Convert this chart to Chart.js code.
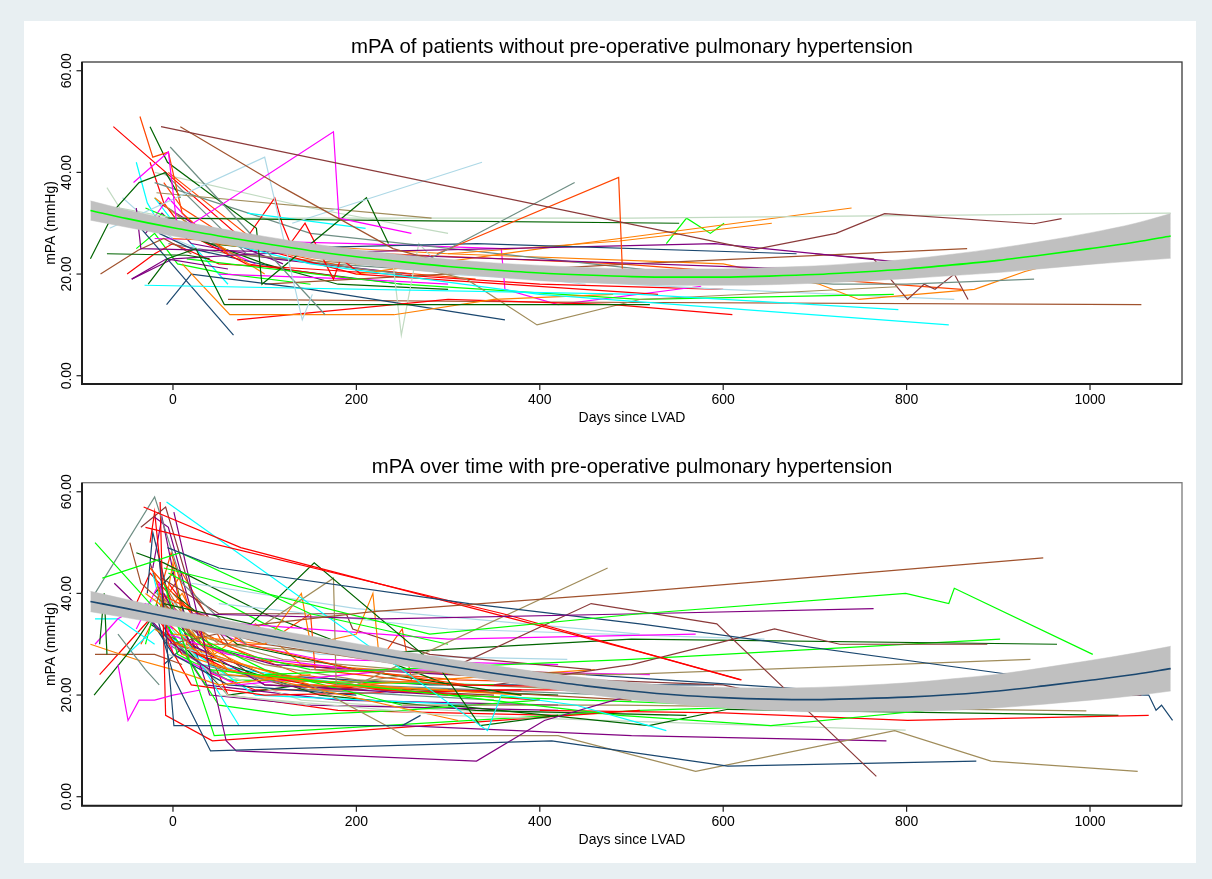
<!DOCTYPE html>
<html>
<head>
<meta charset="utf-8">
<script src="https://cdn.jsdelivr.net/npm/chart.js@4.4.0/dist/chart.umd.min.js"></script>
<style>
html,body{margin:0;padding:0;width:1212px;height:879px;overflow:hidden;background:#e8eff2}
#panel{position:absolute;left:24px;top:21px;width:1172px;height:842px;background:#ffffff}
canvas{position:absolute;left:0}
#c1{top:0}
#c2{top:440px}
</style>
</head>
<body>
<div id="panel"></div>
<canvas id="c1" width="1212" height="440"></canvas>
<canvas id="c2" width="1212" height="439"></canvas>
<script>
// ---------- tick labels ----------
const xTickValues = [0, 200, 400, 600, 800, 1000];
const yTickValues = [0, 20, 40, 60];
const yTickLabels = ["0.00", "20.00", "40.00", "60.00"];
const xAxisTitle = "Days since LVAD";
const yAxisTitle = "mPA (mmHg)";
const topTitle = "mPA of patients without pre-operative pulmonary hypertension";
const bottomTitle = "mPA over time with pre-operative pulmonary hypertension";

// ---------- fitted curves ----------
const fitDays = [-90,-50,0,50,100,150,200,250,300,350,400,450,500,550,600,650,700,750,800,850,900,950,1000,1050,1088];
const topFit   = [32.5,30.9,29.1,27.5,26.0,24.6,23.4,22.4,21.5,20.8,20.2,19.8,19.5,19.4,19.4,19.6,19.9,20.4,21.0,21.8,22.7,23.8,25.0,26.3,27.5];
const topCIHigh= [34.4,32.6,30.7,29.0,27.4,26.0,24.8,23.8,22.9,22.2,21.7,21.3,21.0,21.0,21.0,21.3,21.6,22.2,22.9,23.9,25.1,26.5,28.1,30.0,31.9];
const topCILow = [30.6,29.2,27.5,26.0,24.6,23.2,22.0,21.0,20.1,19.4,18.7,18.3,18.0,17.8,17.8,17.9,18.2,18.6,19.1,19.7,20.3,21.1,21.9,22.6,23.1];
const botFit   = [38.4,37.0,35.2,33.5,31.8,30.2,28.7,27.2,25.7,24.3,23.0,21.8,20.8,20.0,19.5,19.2,19.1,19.3,19.6,20.1,20.8,21.8,22.9,24.1,25.2];
const botCIHigh= [40.4,38.8,36.8,35.0,33.2,31.6,30.1,28.6,27.1,25.8,24.5,23.4,22.5,21.8,21.5,21.4,21.5,21.9,22.4,23.2,24.1,25.4,26.8,28.3,29.6];
const botCILow = [36.4,35.2,33.6,32.0,30.4,28.8,27.3,25.8,24.3,22.8,21.5,20.2,19.1,18.2,17.5,17.0,16.7,16.7,16.8,17.0,17.5,18.2,19.0,19.9,20.8];

// ---------- patients without pre-op PH (top) ----------
const topDays = [
 [-13,633,723,776,939,969],[8,120,240,300],[-43,-5,4,22,175,181,260],[-69,100,141,152],[130,337],
 [-3,166],[280,438],[-36,-22,-5,10,60],[288,486,490,540],[-25,-6,91,97,211,235],
 [-6,250,552],[-90,-62,-37,-8,8],[-72,15,40],[-27,-6,25,56,520],[81,210],
 [-31,509,791],[-30,150,400,846],[10,62,241,350,480],[70,300,480,610],[80,111,119,128,144,175,183,205],
 [-35,66],[-7,20,150,362],[100,331,680],[-45,0,93,358,591,790],[-40,-35,200,676],
 [-18,282],[200,320,397,509,790],[-72,-58,0,500,1088],[200,240,249,268,300],[200,401,487,740],
 [0,300,487,653],[538,560,586,601],[15,250,509,786],[60,400,1056],[100,500,866],
 [-20,150,560,720,800,939],[700,764,801,819,831,852,867],[300,600,705,748,874,929,950],[300,600,852],[-5,100,487,860],
 [-10,200,529],[50,200,300],[-65,75,100],[-40,-28,-15],[-79,-38,-10,20],
 [-45,-7,60],[-20,200,358,362,420,576],[-50,-20,0,50,150,400,600],[-10,100,250,450],[-5,60,200,400],
 [-20,30,100],[-15,40,120],[10,100,180,300],[-10,80,250],[-20,150,300],
 [-10,50,200],[-30,10,150,300],[-25,-10,15,80,200],[-15,20,120,250],[-25,-5,40,90],
 [-10,10,70,200,330],[-40,-20,5,60,150],[-5,40,150,280],[-30,-12,20,110,260],[-35,0,90,230],
 [-55,-30,0,40],[-5,60,170,340,480],[-20,10,60]
];
const topMPA = [
 [49,24.8,28,31.9,29.9,30.9],[49,37,25,22],[38,44,30,30,48,31,28],[29,43,11,16],[30,42],
 [45,12],[23,38],[51,43,44,32,24],[24,39,21,20],[49,42,29,18,35,26],
 [31,30.5,30],[23,33,38,40,35],[24,23.7,23],[18,23,25,14,14],[32,29],
 [17.8,16,13],[30,22,16,10],[22,12,12,15,16],[11,15,14,12],[27,35,30,26,30,19,23,20],
 [29,8],[14,20,17,11],[25,26,24],[19,23,24,25,26,22.4],[33,25,24,21],
 [36,31],[24,19,10,15,17.5],[37,33,31,31,32],[24,22,8,26,20],[20,25,27,33],
 [27,24,26.5,30],[26,31,28,30],[23,18,15,16],[15,14.5,14],[18,22,25],
 [38,28,20,18,18,19],[24,23,15,18,17,20,15],[24,22,18,15,17,20.5,21.5],[20,17,15],[40,25,22,17],
 [30,20,16],[20,19,18],[49,27,26],[42,34,30],[20,24.7,27,24],
 [19,23,21],[27,26,25,17,14,17.6],[20,24,26,22,21,18,17],[31,27,22,18],[33,24,22,21],
 [35,28,20],[34,28,22],[28,22,18,17],[40,24,20],[40,33,28],
 [30,26,22],[33,30,25,22],[42,34,28,22,19],[28,25,21,18],[30,35,26,22],
 [38,33,26,21,19],[25,28,22,20,18],[30,26,24,22],[28,32,26,23,20],[30,28,26,23],
 [35,31,27,24],[26,24,22,20,19],[35,28,18]
];
const topColors = [
 "maroon","sienna","magenta","ltblue","ltblue",
 "teal","teal","orangered","orangered","dkgreen",
 "dkgreen","dkgreen","dkgreen","dkgreen","cyan",
 "cyan","cyan","dkorange","red","red",
 "navy","navy","navy","purple","purple",
 "khaki","khaki","palegreen","palegreen","dkorange",
 "dkorange","lime","lime","sienna","sienna",
 "teal","maroon","dkorange","ltblue","orangered",
 "red","magenta","red","cyan","sienna",
 "purple","magenta","red","ltblue","khaki",
 "dkorange","purple","dkgreen","teal","palegreen",
 "dkorange","lime","red","navy","magenta",
 "orangered","lime","dkgreen","purple","khaki",
 "ltblue","teal","cyan"
];

// ---------- patients with pre-op PH (bottom) ----------
const botDays = [
 [-5,100,218,487,949],[-10,280,509,799,846,852,1003],[20,230,509,764],[-6,50,323,509,915],[-32,74,509,619],
 [-30,360,620],[-7,343,358,440,538],[-10,85,154,292,335,420],[200,474],[100,175,178,300],
 [300,456,593,767],[350,500,656,727,888],[200,500,964],[100,500,902],[150,487,935],
 [-20,2,41,413,605,876],[1,58,69,331,405,500],[-15,1,250,270],[150,253,420,570,787,892,1052],[300,487,652,862],
 [400,600,801,1064],[300,519,605,1031],[450,700,1064,1072,1078,1090],[300,700,1056],[250,487,996],
 [250,500,778],[-60,-49,-37,-20,0,30],[-85,-20,30,150],[-77,8,150,300],[-85,-20,10,80],
 [-60,-30,-15],[-47,-35,-10,40],[-35,-8,20,60],[0,100,140,150,200,218,225,300],[0,300,570],
 [50,300,645],[20,200,509],[50,300,799],[40,300,760],[-10,60,311],
 [-25,10,80,200,320],[-14,-8,43,509],[-10,45,509,700],[-64,-30,0,40],[-86,-50,-20],
 [-80,-75,-72],[-90,-40,0,50,150],[-85,-20,10],[-85,-60,-30,0],[-85,-60,-20],
 [-80,-50,-20,10],[-30,0,30,100,250],[-20,5,60,150,300],[-10,30,120,180,300],[-10,20,100,300],
 [-15,20,100,250],[-25,0,60,200],[-15,30,150,350],[-12,50,189,196,280,456],[-18,50,200],
 [0,70,200,380],[-5,120,250],[-5,60,200,400],[10,80,200,380],[-5,60,150,400],
 [-10,72],[-10,100,250,450],[-5,100,180,300],[-10,60,150],[0,100,150,155,300],
 [-40,-10,100,300],[300,600,650,900],[-15,40,230,250,260],[-20,-5,30,110,300],[-25,-20,-5,20,100,380],
 [-28,-22,-3,30],[-20,-10,0,15,60,200,460],[-15,0,50,130,250,400],[-22,-12,5,40,150,420],[-40,-15,0,70,250,520],
 [-35,-5,50,200,480],[-18,-2,25,90,180,310,520],[-30,-5,40,120,300,500],[-50,-20,10,90,330],[-10,30,100,200,450],
 [-20,0,25,160,330,560],[-45,-10,30,160,430],[-5,20,60,180,420],[-25,-10,40,100,350],[-5,40,140,300,540],
 [-8,10,45,90,140,400],[-30,-15,5,60,350],[-10,15,100,280,590],[-18,-5,35,180,420],[-35,-12,10,55,140,260],
 [-12,10,80,160,420],[-3,40,120,250,380],[-25,10,60,140,420],[-22,-10,30,200],[-40,-25,-5,30,90,470]
];
const botMPA = [
 [30,34,36.4,40,47],[45,32,36,40,38,41,28],[36,35,36,37],[49,45,38,34,24],[57,49,28.5,23],
 [53,36,23],[58,13,20,18,13],[38,34,46,25,14,16],[22,45],[34,43,22,25],
 [25,38,34,4],[22,26,33,30,30],[28,31,30],[24,27,31],[25,24,27],
 [37,23,9,11,6,7],[56,11,9,7,15,20],[47,14,14,16],[22,12,12,5,13,7,5],[20,16,14,17.7],
 [17,16.5,15,16],[18,14,17.2,16],[24,21,20,17,18,15],[22,21,20],[18,18,16.9],
 [14,12,11],[26,15,19,19,20,21],[50,37,30,25],[43,48,36,30],[40,59,42,30],
 [32,25,22],[50,42,38,28],[53,57,40,30],[32,30,40,30,32,40,27,26],[35,31,32],
 [38,33,31],[42,37,32],[20,16,13.1],[25,20,17],[38,25,15],
 [45,38,30,25,22],[58,16,11,17],[42,12,17,18],[42,36,30,25],[20,28,36],
 [30,40,28],[30,27,25,22,24],[28,28,26],[30,35,38,33],[35,35,30],
 [24,30,36,28],[40,36,30,24,21],[33,30,27,22,21],[35,28,24,22,20],[40,30,22,20],
 [38,32,25,18],[35,28,22,20],[33,26,21,19],[43,36,36,33,28,25],[40,30,28],
 [40,30,25,20],[30,24,20],[32,28,25,24],[28,24,22,20],[31,25,22,19],
 [38,14],[36,30,26,24],[44,34,28,26],[35,20,18],[30,30,36,25,22],
 [48,46,36,22],[24,22,20,20],[40,35,28,33,23],[55,53,30,26,24],[50,56,30,22,20,21],
 [40,52,38,26],[44,36,46,30,24,22,25],[36,32,18,16,17,19],[45,55,40,20,18,17],[33,42,28,22,25,24],
 [37,30,24,22,20],[38,48,33,27,25,23,22],[35,38,26,22,21,19],[28,33,30,20,18],[42,30,26,23,21],
 [40,44,28,20,17,16],[36,40,33,28,27],[42,36,20,17,16],[46,38,30,22,20],[28,25,19,17,16],
 [36,40,28,34,26,23],[30,40,28,23,22],[26,30,24,22,22],[38,33,22,19,18],[30,38,44,30,24,21],
 [40,35,30,27,26],[36,31,27,25,23],[34,30,20,22,20],[44,35,26,22],[38,44,40,25,21,21]
];
const botColors = [
 "sienna","lime","purple","navy","red",
 "red","cyan","dkgreen","khaki","khaki",
 "maroon","maroon","dkgreen","lime","khaki",
 "navy","purple","navy","khaki","lime",
 "red","dkgreen","navy","red","khaki",
 "purple","magenta","lime","lime","teal",
 "teal","sienna","maroon","dkorange","magenta",
 "ltblue","ltblue","palegreen","lime","dkorange",
 "orangered","red","lime","purple","dkgreen",
 "dkgreen","dkorange","sienna","magenta","cyan",
 "red","dkorange","dkorange","orangered","purple",
 "lime","navy","teal","maroon","khaki",
 "dkgreen","ltblue","magenta","dkorange","red",
 "cyan","sienna","lime","palegreen","orangered",
 "dkgreen","maroon","orangered","purple","red",
 "navy","dkorange","lime","purple","magenta",
 "teal","orangered","sienna","cyan","khaki",
 "dkgreen","ltblue","red","maroon","palegreen",
 "dkorange","lime","navy","purple","orangered",
 "magenta","khaki","dkgreen","cyan","red"
];

// ---------- styles ----------
const palette = {
  red:"#ff0000", lime:"#00ff00", cyan:"#00ffff", magenta:"#ff00ff",
  dkgreen:"#006400", dkorange:"#ff7f00", orangered:"#ff4500", purple:"#800080",
  sienna:"#a0522d", maroon:"#8b3a3a", navy:"#1a476f", khaki:"#a08c5a",
  ltblue:"#add8e6", teal:"#6e8e84", palegreen:"#c1dac1"
};
const FONT = '"Liberation Sans", Arial, Helvetica, sans-serif';

function patientSets(days, vals, colors) {
  return days.map((d, i) => ({
    data: d.map((x, j) => ({x: x, y: vals[i][j]})),
    borderColor: palette[colors[i]],
    borderWidth: 1.2,
    pointRadius: 0,
    tension: 0,
    fill: false
  }));
}
function fitSets(fit, hi, lo, lineColor) {
  const pts = arr => fitDays.map((x, i) => ({x: x, y: arr[i]}));
  return [
    {data: pts(fit), borderColor: lineColor, borderWidth: 1.6, pointRadius: 0, fill: false, cubicInterpolationMode: 'monotone'},
    {data: pts(hi), borderColor: '#c0c0c0', borderWidth: 0.5, backgroundColor: '#c0c0c0', pointRadius: 0, fill: '+1', cubicInterpolationMode: 'monotone'},
    {data: pts(lo), borderColor: '#c0c0c0', borderWidth: 0.5, pointRadius: 0, fill: false, cubicInterpolationMode: 'monotone'}
  ];
}

function fitFont(ctx, text, base, target) {
  ctx.font = base + 'px ' + FONT;
  const w = ctx.measureText(text).width;
  return (base * target / w).toFixed(2) + 'px ' + FONT;
}

const decor = {
  id: 'decor',
  afterDraw(chart, args, o) {
    const ctx = chart.ctx, a = chart.chartArea, xs = chart.scales.x, ys = chart.scales.y;
    ctx.save();
    // frame
    ctx.strokeStyle = o.frameColor; ctx.lineWidth = 1.3;
    ctx.strokeRect(a.left, a.top, a.right - a.left, a.bottom - a.top);
    // axes
    ctx.strokeStyle = '#1e1e1e'; ctx.lineWidth = 2;
    ctx.beginPath(); ctx.moveTo(a.left, a.top); ctx.lineTo(a.left, a.bottom); ctx.lineTo(a.right, a.bottom); ctx.stroke();
    ctx.lineWidth = 1.2; ctx.fillStyle = '#000';
    // y ticks
    ctx.font = '14px ' + FONT;
    yTickValues.forEach((v, i) => {
      const py = ys.getPixelForValue(v);
      ctx.beginPath(); ctx.moveTo(a.left - 5.5, py); ctx.lineTo(a.left, py); ctx.stroke();
      ctx.save(); ctx.translate(a.left - 11, py); ctx.rotate(-Math.PI / 2);
      ctx.textAlign = 'center'; ctx.textBaseline = 'alphabetic';
      ctx.fillText(yTickLabels[i], 0, 0); ctx.restore();
    });
    // x ticks
    xTickValues.forEach(v => {
      const px = xs.getPixelForValue(v);
      ctx.beginPath(); ctx.moveTo(px, a.bottom); ctx.lineTo(px, a.bottom + 6); ctx.stroke();
      ctx.textAlign = 'center'; ctx.textBaseline = 'middle';
      ctx.fillText(String(v), px, a.bottom + 16.5);
    });
    // axis titles
    const cx = (a.left + a.right) / 2, cy = (a.top + a.bottom) / 2;
    ctx.font = '14px ' + FONT; ctx.textAlign = 'center'; ctx.textBaseline = 'middle';
    ctx.fillText(xAxisTitle, cx, a.bottom + 34.5);
    ctx.save(); ctx.translate(a.left - 27, cy); ctx.rotate(-Math.PI / 2);
    ctx.textBaseline = 'alphabetic'; ctx.fillText(yAxisTitle, 0, 0); ctx.restore();
    // title
    ctx.font = fitFont(ctx, o.title, 18, o.titleWidth);
    ctx.textBaseline = 'middle';
    ctx.fillText(o.title, cx, a.top - 15);
    ctx.restore();
  }
};

function makeChart(id, sets, padTop, padBottom, yMin, yMax, title, titleWidth, frameColor) {
  return new Chart(document.getElementById(id), {
    type: 'line',
    data: {datasets: sets},
    options: {
      responsive: false, animation: false, normalized: true,
      layout: {padding: {left: 82, right: 30, top: padTop, bottom: padBottom}},
      scales: {
        x: {type: 'linear', display: false, min: -99.2, max: 1100.3, bounds: 'data'},
        y: {type: 'linear', display: false, min: yMin, max: yMax, bounds: 'data'}
      },
      plugins: {
        legend: {display: false}, tooltip: {enabled: false}, title: {display: false},
        decor: {title: title, titleWidth: titleWidth, frameColor: frameColor}
      }
    },
    plugins: [decor]
  });
}

makeChart('c1',
  fitSets(topFit, topCIHigh, topCILow, '#00ff00').concat(patientSets(topDays, topMPA, topColors)),
  62, 56, -1.63, 61.72, topTitle, 562, '#3a3a3a');
makeChart('c2',
  fitSets(botFit, botCIHigh, botCILow, '#1a476f').concat(patientSets(botDays, botMPA, botColors)),
  42.7, 73.3, -1.77, 61.78, bottomTitle, 521, '#7a7a7a');
</script>
</body>
</html>
